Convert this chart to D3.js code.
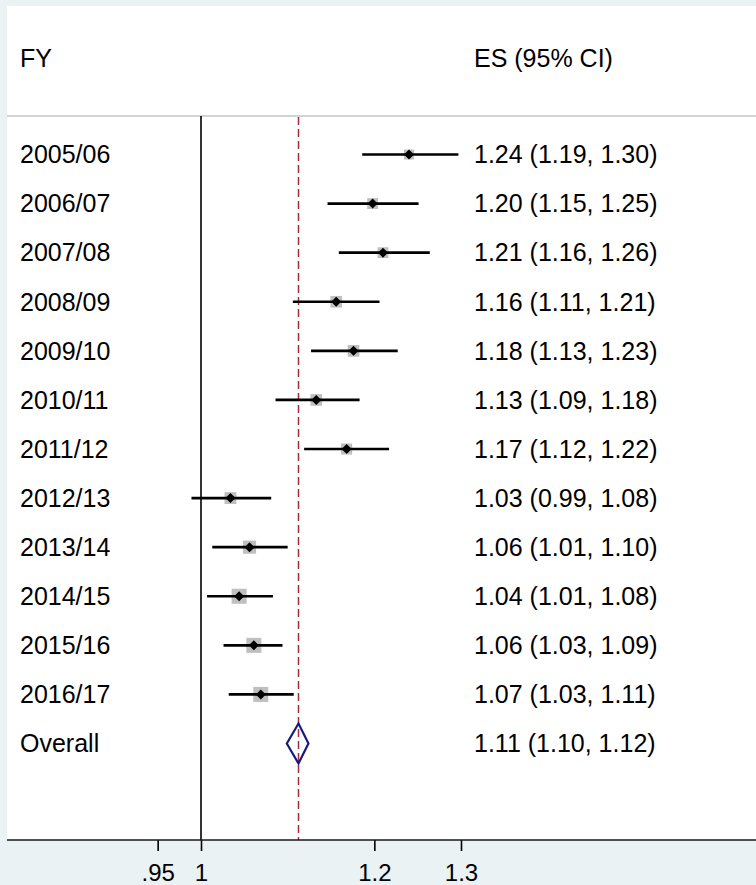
<!DOCTYPE html>
<html>
<head>
<meta charset="utf-8">
<script src="https://cdn.jsdelivr.net/npm/d3@7"></script>
<style>
  body { margin: 0; background: #eaf2f3; }
  text { font-family: "Liberation Sans", Arial, sans-serif; fill: #000; }
</style>
</head>
<body>
<div id="forest"></div>
<script>
// study rows (unrounded values)
const years = ["2005/06", "2006/07", "2007/08", "2008/09", "2009/10", "2010/11",
               "2011/12", "2012/13", "2013/14", "2014/15", "2015/16", "2016/17"];
const es  = [1.240, 1.198, 1.210, 1.156, 1.176, 1.133, 1.168, 1.034, 1.056, 1.044, 1.061, 1.069];
const lci = [1.186, 1.146, 1.159, 1.106, 1.127, 1.086, 1.119, 0.989, 1.013, 1.007, 1.026, 1.032];
const uci = [1.297, 1.251, 1.264, 1.206, 1.227, 1.183, 1.217, 1.081, 1.100, 1.083, 1.094, 1.107];
// approximate weights (%)
const weights = [5.5, 6.5, 6.5, 7.5, 7.5, 7.5, 6.8, 7.8, 9.5, 12.5, 12.5, 12.5];

// pooled estimate
const overallLabel = "Overall";
const overall = {es: 1.1125, lci: 1.099, uci: 1.124};

// x axis
const tickValues = [0.95, 1, 1.2, 1.3];
const tickLabels = [".95", "1", "1.2", "1.3"];

const W = 756, H = 885;
const plot = {left: 7, top: 6, right: 756, bottom: 840, sep: 116};

const svg = d3.select("#forest")
  .append("svg")
  .attr("width", W)
  .attr("height", H);

// graph background + plot region
svg.append("rect").attr("width", W).attr("height", H).attr("fill", "#eaf2f3");
svg.append("rect")
  .attr("x", plot.left).attr("y", plot.top)
  .attr("width", plot.right - plot.left).attr("height", plot.bottom - plot.top)
  .attr("fill", "#fff");

const x = d3.scaleLinear()
  .domain([1, 1.3])
  .range([201, 461]);

const y = d3.scalePoint()
  .domain(years.concat([overallLabel]))
  .range([154.5, 743.5]);

const rows = years.map((d, i) => ({year: d, es: es[i], lci: lci[i], uci: uci[i], w: weights[i]}));
const fmt = d3.format(".2f");

// headers
svg.append("text").attr("x", 20).attr("y", 58).attr("dy", "0.35em")
  .style("font-size", "25px").text("FY");
svg.append("text").attr("x", 474).attr("y", 58).attr("dy", "0.35em")
  .style("font-size", "25px").text("ES (95% CI)");

// separator under header
svg.append("line")
  .attr("x1", plot.left).attr("x2", plot.right)
  .attr("y1", plot.sep).attr("y2", plot.sep)
  .attr("stroke", "#c4c4c4").attr("stroke-width", 1.5);

// no-effect line
svg.append("line")
  .attr("x1", x(1)).attr("x2", x(1))
  .attr("y1", plot.sep).attr("y2", plot.bottom)
  .attr("stroke", "#000").attr("stroke-width", 1.6);

// overall effect line
svg.append("line")
  .attr("x1", x(overall.es)).attr("x2", x(overall.es))
  .attr("y1", plot.sep + 1).attr("y2", plot.bottom)
  .attr("stroke", "#a82a3c").attr("stroke-width", 1.5)
  .attr("stroke-dasharray", "8,4");

// weight boxes
svg.selectAll("rect.box")
  .data(rows)
  .join("rect")
  .attr("class", "box")
  .attr("x", d => x(d.es) - 4.25 * Math.sqrt(d.w) / 2)
  .attr("y", d => y(d.year) - 4.25 * Math.sqrt(d.w) / 2)
  .attr("width", d => 4.25 * Math.sqrt(d.w))
  .attr("height", d => 4.25 * Math.sqrt(d.w))
  .attr("fill", "#bfbfbf");

// confidence intervals
svg.selectAll("line.ci")
  .data(rows)
  .join("line")
  .attr("class", "ci")
  .attr("x1", d => x(d.lci)).attr("x2", d => x(d.uci))
  .attr("y1", d => y(d.year)).attr("y2", d => y(d.year))
  .attr("stroke", "#000").attr("stroke-width", 2.6);

// point estimates
svg.selectAll("path.pt")
  .data(rows)
  .join("path")
  .attr("class", "pt")
  .attr("d", d3.symbol(d3.symbolSquare, 50))
  .attr("transform", d => `translate(${x(d.es)},${y(d.year)}) rotate(45)`)
  .attr("fill", "#000");

// pooled diamond
const yo = y(overallLabel);
svg.append("path")
  .attr("d", `M${x(overall.lci)},${yo} L${x(overall.es)},${yo - 20} L${x(overall.uci)},${yo} L${x(overall.es)},${yo + 20} Z`)
  .attr("fill", "none")
  .attr("stroke", "#1a1a7e")
  .attr("stroke-width", 2.2);

// row labels
svg.selectAll("text.lab")
  .data(years.concat([overallLabel]))
  .join("text")
  .attr("class", "lab")
  .attr("x", 20).attr("y", d => y(d)).attr("dy", "0.35em")
  .style("font-size", "25px")
  .text(d => d);

// ES text
const esText = rows.map(d => `${fmt(d.es)} (${fmt(d.lci)}, ${fmt(d.uci)})`)
  .concat([`${fmt(overall.es)} (${fmt(overall.lci)}, ${fmt(overall.uci)})`]);
svg.selectAll("text.es")
  .data(esText)
  .join("text")
  .attr("class", "es")
  .attr("x", 474).attr("y", (d, i) => y(y.domain()[i])).attr("dy", "0.35em")
  .style("font-size", "25px")
  .text(d => d);

// x axis
const xAxis = d3.axisBottom(x)
  .tickValues(tickValues)
  .tickFormat((d, i) => tickLabels[i])
  .tickSize(11)
  .tickPadding(13);

const gx = svg.append("g")
  .attr("transform", `translate(0,${plot.bottom})`)
  .call(xAxis);
gx.select(".domain").remove();
gx.selectAll(".tick line").attr("stroke", "#000").attr("stroke-width", 1.6);
gx.selectAll(".tick text")
  .style("font-size", "24px")
  .style("font-family", "'Liberation Sans', Arial, sans-serif")
  .attr("fill", "#000");

svg.append("line")
  .attr("x1", plot.left).attr("x2", plot.right)
  .attr("y1", plot.bottom).attr("y2", plot.bottom)
  .attr("stroke", "#1a1a1a").attr("stroke-width", 1.6);
</script>
</body>
</html>
